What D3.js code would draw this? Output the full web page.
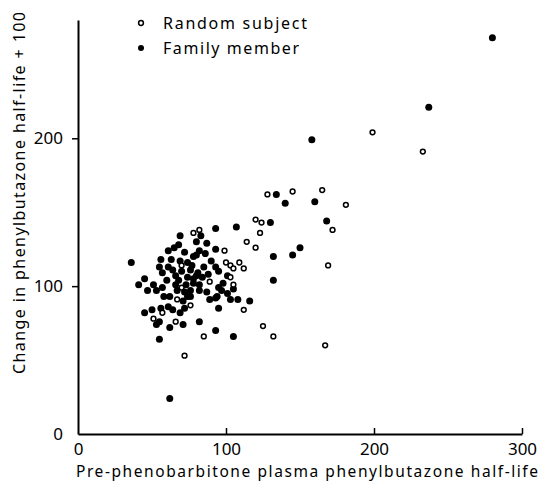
<!DOCTYPE html>
<html>
<head>
<meta charset="utf-8">
<script src="https://cdn.jsdelivr.net/npm/d3@7"></script>
<style>
  body { margin: 0; background: #fff; }
  svg { display: block; font-family: "Noto Sans", "DejaVu Sans", sans-serif; }
</style>
</head>
<body>
<div id="chart"></div>
<script>
// values: [half-life before, change + 100]
var randomSubject = [
  [199, 204], [233, 191], [145, 164], [165, 165], [181, 155], [128, 162],
  [120, 145], [124, 143], [172, 138], [123, 136], [78, 136], [82, 138],
  [114, 130], [120, 126], [99, 124], [109, 116], [112, 112], [100, 116],
  [103, 114], [105, 112], [169, 114], [167, 60], [125, 73], [132, 66],
  [112, 84], [85, 66], [105, 101], [76, 87], [103, 106], [51, 78],
  [57, 82], [66, 76], [72, 53], [89, 103], [70, 99], [67, 91], [70, 114]
];
var familyMember = [
  [280, 268], [237, 221], [158, 199], [140, 156], [160, 157], [134, 162],
  [130, 143], [168, 144], [107, 140], [93, 139], [150, 126], [145, 121],
  [132, 120], [132, 104], [116, 90], [108, 91], [103, 91], [93, 92],
  [89, 91], [95, 85], [82, 76], [93, 70], [105, 66], [62, 24], [55, 64],
  [36, 116], [41, 101],
  [69, 134], [68, 128], [61, 124], [56, 118], [45, 105], [47, 97],
  [51, 101], [53, 97], [45, 82], [50, 84], [53, 74], [55, 76], [56, 85],
  [62, 72], [71, 74], [80, 130], [87, 129], [83, 134], [82, 124],
  [86, 122], [80, 121], [74, 116], [69, 117], [61, 113], [55, 113],
  [93, 113], [95, 110], [101, 107], [93, 125], [82, 97], [87, 96],
  [94, 93], [97, 97], [101, 95], [105, 98], [84, 106], [81, 109],
  [74, 93], [71, 90], [72, 85], [69, 82], [61, 86], [64, 84], [68, 104],
  [67, 97], [62, 93], [57, 99], [60, 104], [57, 109], [64, 111],
  [76, 111], [74, 106], [70, 110], [78, 102], [80, 107], [82, 101],
  [95, 99], [76, 93], [77, 114], [73, 101], [76, 97], [78, 105],
  [66, 101], [72, 96], [63, 118], [66, 107], [58, 93], [90, 117],
  [88, 108], [85, 113], [78, 120], [72, 123], [65, 126], [98, 102]
];
var xTicks = [0, 100, 200, 300];
var yTicks = [0, 100, 200];
var legendLabels = ["Random subject", "Family member"];

var width = 542, height = 482;
var svg = d3.select("#chart").append("svg")
  .attr("width", width)
  .attr("height", height);

// scales
var x = d3.scaleLinear().domain([0, 300]).range([78, 522]);
var y = d3.scaleLinear().domain([0, 280]).range([434, 20]);

// x axis, ticks pointing up into the plot
var gx = svg.append("g")
  .attr("transform", "translate(0," + y(0) + ")")
  .call(d3.axisBottom(x).tickValues(xTicks).tickSizeInner(-6).tickSizeOuter(0).tickPadding(9));
gx.select(".domain").attr("stroke", "#000").attr("stroke-width", 2);
gx.selectAll(".tick line").attr("stroke", "#000").attr("stroke-width", 1.5)
  .filter(function (d) { return d === 0; }).remove();
gx.selectAll(".tick text").attr("font-size", 17).attr("fill", "#000")
  .attr("font-family", "Noto Sans, sans-serif");

// y axis
var gy = svg.append("g")
  .attr("transform", "translate(" + x(0) + ",0)")
  .call(d3.axisLeft(y).tickValues(yTicks).tickSizeInner(6).tickSizeOuter(0).tickPadding(9));
gy.select(".domain").attr("stroke", "#000").attr("stroke-width", 2);
gy.selectAll(".tick line").attr("stroke", "#000").attr("stroke-width", 1.5)
  .filter(function (d) { return d === 0; }).remove();
gy.selectAll(".tick text").attr("font-size", 17).attr("fill", "#000")
  .attr("font-family", "Noto Sans, sans-serif");

// axis titles
svg.append("text")
  .attr("x", 76).attr("y", 477)
  .attr("font-size", 15.5)
  .attr("textLength", 462).attr("lengthAdjust", "spacing")
  .text("Pre-phenobarbitone plasma phenylbutazone half-life");

svg.append("text")
  .attr("transform", "translate(25,374) rotate(-90)")
  .attr("font-size", 16)
  .attr("textLength", 362).attr("lengthAdjust", "spacing")
  .text("Change in phenylbutazone half-life + 100");

// points
svg.append("g").selectAll("circle")
  .data(familyMember)
  .enter().append("circle")
  .attr("cx", function (d) { return x(d[0]); })
  .attr("cy", function (d) { return y(d[1]); })
  .attr("r", 3.5)
  .attr("fill", "#000");

svg.append("g").selectAll("circle")
  .data(randomSubject)
  .enter().append("circle")
  .attr("cx", function (d) { return x(d[0]); })
  .attr("cy", function (d) { return y(d[1]); })
  .attr("r", 2.4)
  .attr("fill", "#fff")
  .attr("stroke", "#000")
  .attr("stroke-width", 1.5);

// legend
var legend = svg.append("g");
legendLabels.forEach(function (lab, i) {
  var cy = 23 + i * 25;
  var c = legend.append("circle").attr("cx", 141).attr("cy", cy);
  if (i === 0) {
    c.attr("r", 2.4).attr("fill", "#fff").attr("stroke", "#000").attr("stroke-width", 1.5);
  } else {
    c.attr("r", 3).attr("fill", "#000");
  }
  legend.append("text")
    .attr("x", 163).attr("y", cy + 6)
    .attr("font-size", 16)
    .attr("textLength", i === 0 ? 144 : 136).attr("lengthAdjust", "spacing")
    .text(lab);
});
</script>
</body>
</html>
